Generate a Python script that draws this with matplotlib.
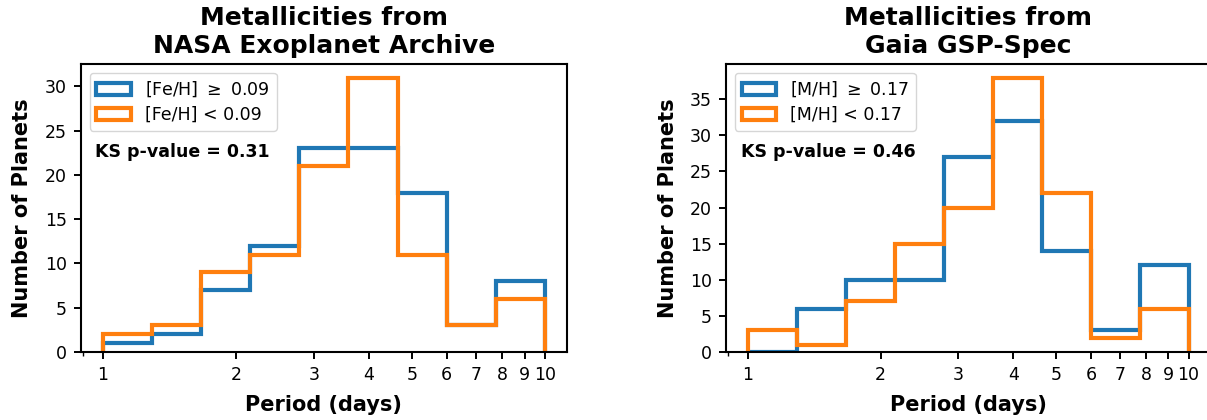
import numpy as np
import matplotlib
matplotlib.use("Agg")
import matplotlib.pyplot as plt

# bin edges (log-spaced between 1 and 10 days)
bin_edges = [1.0, 1.2915, 1.6681, 2.1544, 2.7826, 3.5938, 4.6416, 5.9948, 7.7426, 10.0]

# NASA Exoplanet Archive counts
nasa_high = [1, 2, 7, 12, 23, 23, 18, 3, 8]
nasa_low = [2, 3, 9, 11, 21, 31, 11, 3, 6]
# Gaia GSP-Spec counts
gaia_high = [0, 6, 10, 10, 27, 32, 14, 3, 12]
gaia_low = [3, 1, 7, 15, 20, 38, 22, 2, 6]

titles = ["Metallicities from\nNASA Exoplanet Archive", "Metallicities from\nGaia GSP-Spec"]
labels_high = ["[Fe/H] $\\geq$ 0.09", "[M/H] $\\geq$ 0.17"]
labels_low = ["[Fe/H] < 0.09", "[M/H] < 0.17"]
ks_text = ["KS p-value = 0.31", "KS p-value = 0.46"]
xticks = [1, 2, 3, 4, 5, 6, 7, 8, 9, 10]

fig = plt.figure(figsize=(12.07, 4.2), dpi=100)
ax1 = fig.add_axes([0.067, 0.162, 0.4027, 0.686])
ax2 = fig.add_axes([0.6015, 0.162, 0.4015, 0.686])

edges = np.array(bin_edges)
centers = np.sqrt(edges[:-1] * edges[1:])
data = [(nasa_high, nasa_low), (gaia_high, gaia_low)]

for i, ax in enumerate([ax1, ax2]):
    hi, lo = data[i]
    ax.hist(centers, bins=edges, weights=hi, histtype="step", lw=3,
            color="#1f77b4", label=labels_high[i])
    ax.hist(centers, bins=edges, weights=lo, histtype="step", lw=3,
            color="#ff7f0e", label=labels_low[i])
    ax.set_xscale("log")
    ax.set_xticks(xticks)
    ax.set_xticklabels([str(t) for t in xticks])
    ax.tick_params(axis="both", labelsize=12.5, width=1.4, length=5, pad=5)
    ax.tick_params(axis="x", which="minor", width=1.0, length=3)
    ax.set_title(titles[i], fontsize=18, fontweight="bold", pad=8)
    ax.set_xlabel("Period (days)", fontsize=15, fontweight="bold", labelpad=8)
    ax.set_ylabel("Number of Planets", fontsize=15, fontweight="bold", labelpad=9)
    for s in ax.spines.values():
        s.set_linewidth(1.5)
    ax.legend(loc="upper left", fontsize=12.5, labelspacing=0.4)
    ax.text(0.03, 0.695, ks_text[i], transform=ax.transAxes, fontsize=12.5,
            fontweight="bold", va="center")

fig.savefig("out.png", dpi=100)
